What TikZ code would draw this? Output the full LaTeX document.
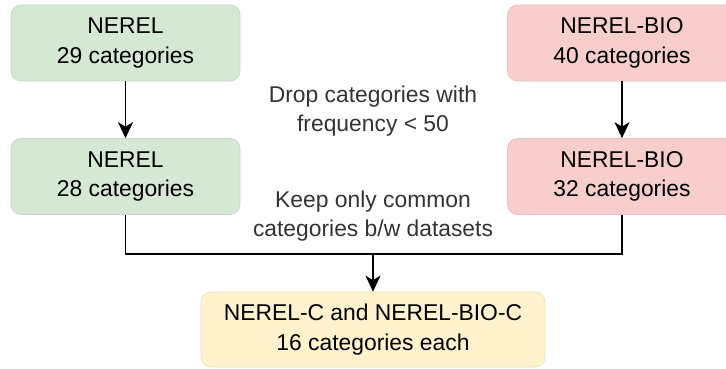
\documentclass[tikz,border=0pt]{standalone}
\usepackage{fontspec}
\setmainfont{Liberation Sans}
\usetikzlibrary{positioning}
\usetikzlibrary{arrows.meta}

\begin{document}
\begin{tikzpicture}[mynode/.style={draw, anchor=center, rounded corners=0.2cm, line width=0.4pt, minimum width=4.58cm, minimum height=1.52cm, align=center, font=\fontsize{13pt}{16.8pt}\selectfont},
  mylabel/.style={align=center, text=c4, font=\fontsize{13pt}{16.8pt}\selectfont},
  myarrow/.style={-{Stealth[length=3.2mm, width=3mm, inset=0.9mm]}, line width=0.75pt}]

% draw.io pastel colors
\definecolor{c1}{HTML}{d5e8d4} % green
\definecolor{c2}{HTML}{f8cecc} % red
\definecolor{c3}{HTML}{fff2cc} % yellow
\definecolor{c4}{HTML}{333333} % text gray

\useasboundingbox (0,0) rectangle (14.52,-7.36);

\node [mynode,fill=c1,draw=c1!85!gray] at (2.51,-0.86) (nerelA) {NEREL\\29 categories};
\node [mynode,fill=c1,draw=c1!85!gray] at (2.51,-3.53) (nerelB) {NEREL\\28 categories};
\node [mynode,fill=c2,draw=c2!85!gray] at (12.44,-0.86) (bioA) {NEREL-BIO\\40 categories};
\node [mynode,fill=c2,draw=c2!85!gray] at (12.44,-3.53) (bioB) {NEREL-BIO\\32 categories};
%% merged datasets
\node [mynode,fill=c3,draw=c3!85!gray,minimum width=6.88cm,minimum height=1.5cm] at (7.46,-6.59) (common) {NEREL-C and NEREL-BIO-C\\16 categories each};

\node [mylabel] at (7.46,-2.22) (drop) {Drop categories with\\frequency < 50};
\node [mylabel] at (7.46,-4.32) (keep) {Keep only common\\categories b/w datasets};

\draw[myarrow] (nerelA) -- (nerelB);
\draw[myarrow] (bioA) -- (bioB);
\coordinate (merge) at (7.46,-5.08);
\draw[line width=0.75pt] (nerelB) |- (merge) -| (bioB);
\draw[myarrow] (merge) -- (common);
\end{tikzpicture}
\end{document}
